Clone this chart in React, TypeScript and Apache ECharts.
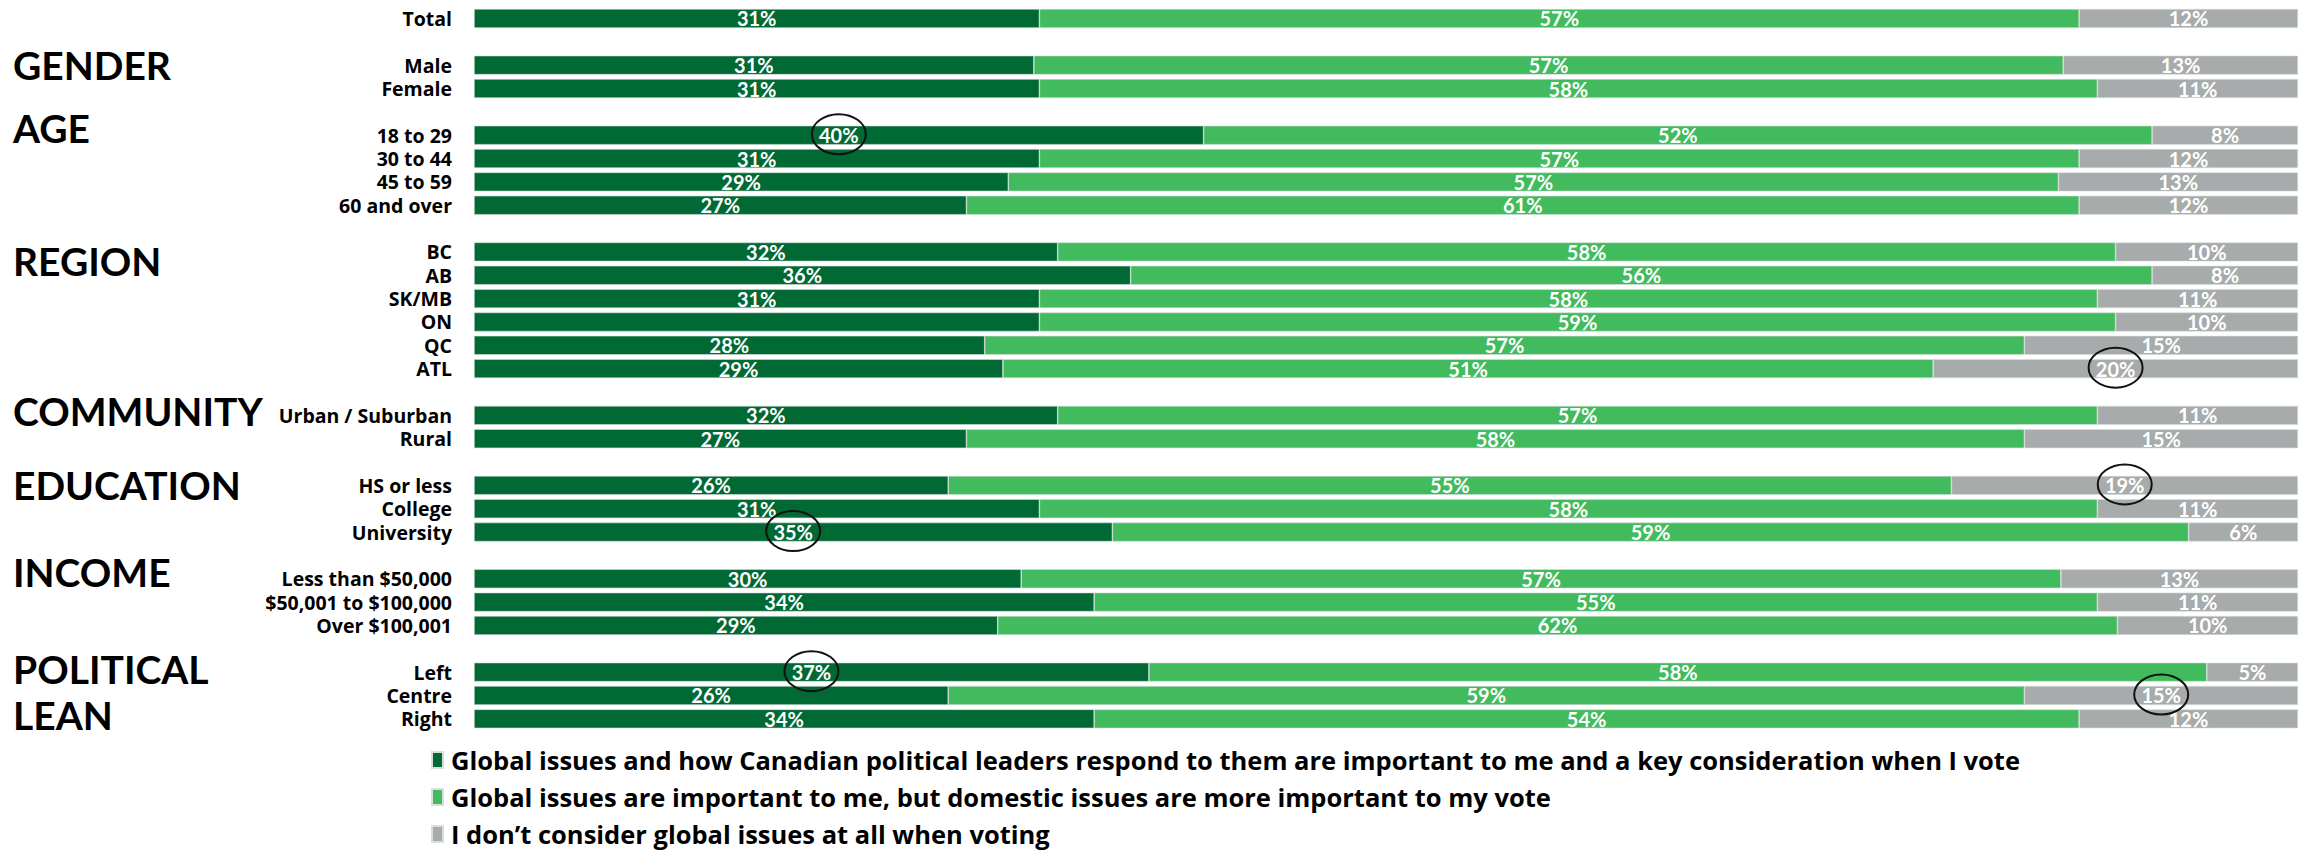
import React, { useEffect, useRef } from 'react';
import * as echarts from 'echarts';

// Row categories (names starting with "_" are spacer rows between groups)
const categories = [
  'Total', '_g1',
  'Male', 'Female', '_g2',
  '18 to 29', '30 to 44', '45 to 59', '60 and over', '_g3',
  'BC', 'AB', 'SK/MB', 'ON', 'QC', 'ATL', '_g4',
  'Urban / Suburban', 'Rural', '_g5',
  'HS or less', 'College', 'University', '_g6',
  'Less than $50,000', '$50,001 to $100,000', 'Over $100,001', '_g7',
  'Left', 'Centre', 'Right',
];

const seriesNames = [
  'Global issues and how Canadian political leaders respond to them are important to me and a key consideration when I vote',
  'Global issues are important to me, but domestic issues are more important to my vote',
  'I don\u2019t consider global issues at all when voting',
];

const keyConsideration = [31, null, 31, 31, null, 40, 31, 29, 27, null, 32, 36, 31, 31, 28, 29, null, 32, 27, null, 26, 31, 35, null, 30, 34, 29, null, 37, 26, 34];
const domesticMore = [57, null, 57, 58, null, 52, 57, 57, 61, null, 58, 56, 58, 59, 57, 51, null, 57, 58, null, 55, 58, 59, null, 57, 55, 62, null, 58, 59, 54];
const notConsider = [12, null, 13, 11, null, 8, 12, 13, 12, null, 10, 8, 11, 10, 15, 20, null, 11, 15, null, 19, 11, 6, null, 13, 11, 10, null, 5, 15, 12];

// Labels absent in the original picture
const hiddenLabels = [{ series: 0, row: 'ON' }];

// Values circled in the original
const circled = [
  { series: 0, row: '18 to 29' },
  { series: 2, row: 'ATL' },
  { series: 2, row: 'HS or less' },
  { series: 0, row: 'University' },
  { series: 0, row: 'Left' },
  { series: 2, row: 'Centre' },
];

// Group headings and the rows they sit beside
const groupHeadings = ['GENDER', 'AGE', 'REGION', 'COMMUNITY', 'EDUCATION', 'INCOME', 'POLITICAL', 'LEAN'];
const groupAnchorRows = ['Male', '18 to 29', 'BC', 'Urban / Suburban', 'HS or less', 'Less than $50,000', 'Left', 'Right'];
const groupOffsets = [0, -7, 9, -4, 0, -7, -3, -4];

const colors = ['#006934', '#41bb5e', '#a8abab'];
const FONT = 'Lato';
const TEXT_FONT = 'Open Sans';

export default function App() {
  const ref = useRef<HTMLDivElement>(null);

  useEffect(() => {
    if (!ref.current) return;
    const chart = echarts.init(ref.current, undefined, { renderer: 'svg' });
    const raw = [keyConsideration, domesticMore, notConsider];
    const sums = categories.map((_, i) =>
      raw.reduce((s, arr) => s + (arr[i] == null ? 0 : (arr[i] as number)), 0)
    );
    const norm = raw.map((arr) =>
      arr.map((v, i) => (v == null ? null : ((v as number) / sums[i]) * 100))
    );

    const series = raw.map((arr, si) => ({
      name: seriesNames[si],
      type: 'bar',
      stack: 'total',
      barWidth: 19,
      itemStyle: { color: colors[si], borderColor: '#d8dedb', borderWidth: 0.6 },
      label: {
        show: true,
        position: 'inside',
        color: '#ffffff',
        fontSize: 20,
        lineHeight: 20,
        fontWeight: 'bold',
        fontFamily: FONT,
        formatter: (p: any) => (p.data && p.data.raw != null ? p.data.raw + '%' : ''),
      },
      data: arr.map((v, i) => {
        if (v == null) return { value: null, raw: null };
        const hide = hiddenLabels.some((h) => h.series === si && h.row === categories[i]);
        const item: any = { value: norm[si][i], raw: v };
        if (hide) item.label = { show: false };
        return item;
      }),
    }));

    const legendTops = [747, 784, 821];
    const legends = seriesNames.map((n, i) => ({
      orient: 'vertical',
      left: 431,
      top: legendTops[i],
      padding: 0,
      data: [n],
      icon: 'rect',
      itemWidth: 11,
      itemHeight: 16,
      selectedMode: false,
      textStyle: {
        color: '#000',
        fontSize: 25.5,
        lineHeight: 24,
        fontWeight: 'bold',
        fontFamily: TEXT_FONT,
        padding: [0, 0, 0, 3],
      },
    }));

    chart.setOption({
      animation: false,
      backgroundColor: '#ffffff',
      grid: { left: 474, right: 12, top: 6.8, height: 723.7, containLabel: false },
      xAxis: { type: 'value', min: 0, max: 100, show: false },
      yAxis: {
        type: 'category',
        inverse: true,
        data: categories,
        axisLine: { show: false },
        axisTick: { show: false },
        splitLine: { show: false },
        axisLabel: {
          interval: 0,
          margin: 22,
          color: '#000',
          fontSize: 19.5,
          lineHeight: 20,
          fontWeight: 'bold',
          fontFamily: TEXT_FONT,
          formatter: (v: string) => (v.startsWith('_') ? '' : v),
        },
      },
      legend: legends,
      series,
    });

    const graphics: any[] = [];
    circled.forEach((c) => {
      const idx = categories.indexOf(c.row);
      let start = 0;
      for (let s = 0; s < c.series; s++) start += norm[s][idx] as number;
      const center = start + (norm[c.series][idx] as number) / 2;
      const p = chart.convertToPixel({ gridIndex: 0 }, [center, idx]) as number[];
      graphics.push({
        type: 'ellipse',
        z: 100,
        shape: { cx: p[0], cy: p[1] - 1, rx: 27, ry: 20 },
        style: { fill: 'none', stroke: '#111', lineWidth: 2 },
      });
    });
    groupHeadings.forEach((t, gi) => {
      const idx = categories.indexOf(groupAnchorRows[gi]);
      const p = chart.convertToPixel({ gridIndex: 0 }, [0, idx]) as number[];
      graphics.push({
        type: 'text',
        x: 13,
        y: p[1] + groupOffsets[gi],
        z: 100,
        style: {
          text: t,
          fill: '#000',
          fontSize: 39,
          lineHeight: 34,
          fontWeight: 'bold',
          fontFamily: FONT,
          verticalAlign: 'middle',
          align: 'left',
        },
      });
    });
    chart.setOption({ graphic: graphics });

    return () => chart.dispose();
  }, []);

  return (
    <div
      ref={ref}
      style={{ position: 'fixed', left: 0, top: 0, width: 2310, height: 851, background: '#fff' }}
    />
  );
}
